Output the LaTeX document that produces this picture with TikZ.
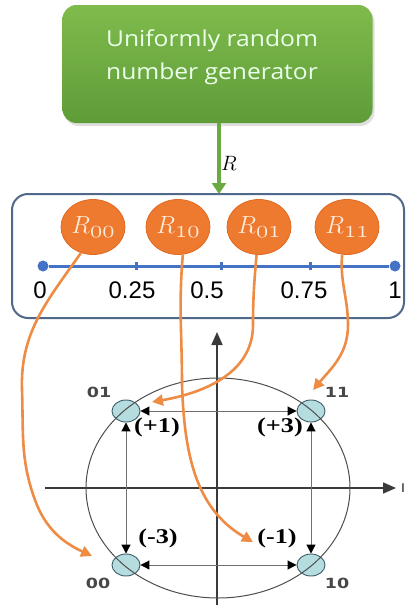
\documentclass[tikz,border=0pt]{standalone}
\usepackage{fontspec}
\setmainfont[FakeStretch=1.12]{Open Sans}
\newfontfamily\numfont{Liberation Sans}
\newfontfamily\lblfont[FakeStretch=1.25]{DejaVu Sans}
\newfontfamily\valfont[FakeStretch=1.25]{Liberation Serif}
\usetikzlibrary{arrows.meta,shapes.geometric,shadows}
\definecolor{gtop}{HTML}{7FBB4C}
\definecolor{gbot}{HTML}{5E9C38}
\definecolor{garr}{HTML}{6AAA42}
\definecolor{boxblue}{HTML}{50698A}
\definecolor{lineblue}{HTML}{4472C4}
\definecolor{ofill}{HTML}{EE7A30}
\definecolor{oedge}{HTML}{E06C24}
\definecolor{otext}{HTML}{FCEBD8}
\definecolor{curvec}{HTML}{EE8C45}
\definecolor{tealc}{HTML}{B5DCDF}
\definecolor{tealedge}{HTML}{3F5F66}
\definecolor{axisc}{HTML}{3A3A3A}
\definecolor{dblc}{HTML}{707070}
\newcommand{\rlab}[1]{{\fontsize{26}{26}\selectfont$R$}\raisebox{-4pt}{\fontsize{24}{24}\selectfont$\mathnormal{#1}$}}
\tikzset{
  genbox/.style={rounded corners=14pt, minimum width=310pt, minimum height=118pt,
    top color=gtop, bottom color=gbot, draw=none,
    drop shadow={opacity=0.25, shadow xshift=2pt, shadow yshift=-3pt}},
  gentext/.style={text=white!92!green, align=center, font=\fontsize{22}{33}\selectfont},
  barbox/.style={rounded corners=16pt, minimum width=392pt, minimum height=124pt,
    draw=boxblue, line width=2pt},
  ocirc/.style={ellipse, minimum width=64pt, minimum height=55pt, fill=ofill, draw=oedge,
    line width=0.8pt, text=otext, inner sep=0pt},
  dotc/.style={circle, fill=lineblue, minimum size=11pt, inner sep=0pt},
  numlbl/.style={font=\numfont\fontsize{24}{24}\selectfont, text=black, inner sep=0pt},
  tickm/.style={lineblue, line width=3pt},
  pt/.style={ellipse, minimum width=28pt, minimum height=22pt, fill=tealc, draw=tealedge,
    line width=0.9pt, inner sep=0pt},
  ptlbl/.style={font=\lblfont\bfseries\fontsize{14}{14}\selectfont, text=black!72, inner sep=0pt},
  vallbl/.style={font=\valfont\bfseries\fontsize{21}{21}\selectfont, text=black, inner sep=0pt},
  dbl/.style={dblc, line width=1pt, {Triangle[length=9pt,width=9pt,fill=black,color=black]}-{Triangle[length=9pt,width=9pt,fill=black,color=black]}},
  axisl/.style={axisc, line width=1.6pt, -{Triangle[length=13pt,width=11pt]}},
  curvel/.style={curvec, line width=2.6pt, -{Triangle[length=11pt,width=11pt]}},
}
\begin{document}
\begin{tikzpicture}[x=1pt,y=-1pt]
\useasboundingbox (0,0) rectangle (409,605);
% generator
\node[genbox] (gen) at (217.5,64) {};
\node[gentext] (gtxt) at (212,57) {Uniformly random\\number generator};
% bar box
\node[barbox] (bar) at (208,256) {};
\coordinate (garrtip) at (219,194);
\draw[garr, line width=3.5pt, -{Triangle[length=11pt,width=14pt]}] (gen.south -| garrtip) -- (garrtip);
\node[font=\fontsize{21}{21}\selectfont] (rl) at (229,163) {$R$};
% number line
\node[dotc] (d0) at (43,266) {};
\node[dotc] (d1) at (395,266) {};
\draw[lineblue, line width=3pt] (d0) -- (d1);
\draw[tickm] (136,262) -- (136,270);
\draw[tickm] (221,262) -- (221,270);
\draw[tickm] (310,262) -- (310,270);
\node[numlbl] (n0) at (40,290) {0};
\node[numlbl] (n25) at (132,290) {0.25};
\node[numlbl] (n5) at (207,290) {0.5};
\node[numlbl] (n75) at (304,290) {0.75};
\node[numlbl] (n1) at (395,290) {1};
% orange circles
\node[ocirc] (r00) at (93,227) {\rlab{00}};
\node[ocirc] (r10) at (178,227) {\rlab{10}};
\node[ocirc] (r01) at (259,227) {\rlab{01}};
\node[ocirc] (r11) at (347,227) {\rlab{11}};
% axes
\coordinate (hx0) at (45,488);
\coordinate (hx1) at (396,488);
\coordinate (vy0) at (217,605);
\coordinate (vy1) at (217,332);
\draw[axisl] (hx0) -- (hx1);
\draw[axisl] (vy0) -- (vy1);
\node[font=\lblfont\fontsize{12}{12}\selectfont, text=axisc, inner sep=0pt] (il) at (403,488) {I};
% constellation points
\node[pt] (p01) at (126,411) {};
\node[pt] (p11) at (311,411) {};
\node[pt] (p00) at (126,565) {};
\node[pt] (p10) at (311,565) {};
\draw[dblc!70!black, line width=1pt] (218,488) ellipse [x radius=132, y radius=110];
\draw[dbl] (p01) -- (p11);
\draw[dbl] (p00) -- (p10);
\draw[dbl] (p01) -- (p00);
\draw[dbl] (p11) -- (p10);
\node[ptlbl] (l01) at (99,392) {01};
\node[ptlbl] (l11) at (337,392) {11};
\node[ptlbl] (l00) at (98,583) {00};
\node[ptlbl] (l10) at (337,583) {10};
\node[vallbl] (v1) at (157,427) {(+1)};
\node[vallbl] (v3) at (280,427) {(+3)};
\node[vallbl] (vm3) at (158,538) {(-3)};
\node[vallbl] (vm1) at (277,538) {(-1)};
% orange curves
\coordinate (t00) at (92,556);
\coordinate (t10) at (253,542);
\coordinate (t01) at (152,402);
\coordinate (t11) at (313,390);
\draw[curvel] (r00.-115) to[out=235,in=92] (22,390) to[out=-88,in=110] (35,500) to[out=-70,in=155] (t00);
\draw[curvel] (r10.-80) to[out=-95,in=90] (182,385) to[out=-88,in=150] (t10);
\draw[curvel] (r01.-95) to[out=-95,in=90] (253,325) to[out=-90,in=10] (t01);
\draw[curvel] (r11.-100) to[out=-95,in=90] (348,325) to[out=-90,in=50] (t11);
\end{tikzpicture}
\end{document}
